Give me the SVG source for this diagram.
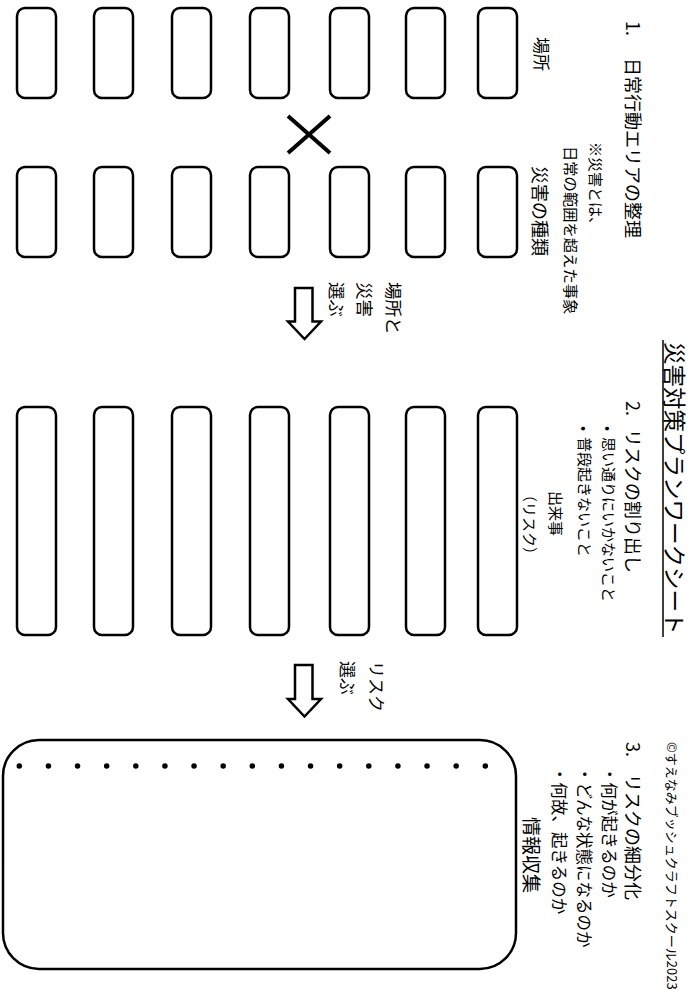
<svg xmlns="http://www.w3.org/2000/svg" width="693" height="1002" viewBox="0 0 693 1002">
<style>
.t{font-family:"Noto Sans CJK JP","Noto Sans",sans-serif;fill:#000}
.box{fill:#fff;stroke:#000;stroke-width:2.5}
.arr{fill:#fff;stroke:#000;stroke-width:2.5;stroke-linejoin:miter}
</style>
<rect width="693" height="1002" fill="#fff"/>
<g id="title">
<text class="t" font-size="22.5" transform="translate(665.5,342) rotate(90)">災害対策プランワークシート</text>
<line x1="663" y1="340" x2="663" y2="637" stroke="#000" stroke-width="1.5"/>
<text class="t" font-size="13" transform="translate(667,742) rotate(90)">©すえなみブッシュクラフトスクール2023</text>
</g>
<g id="section1">
<text class="t" font-size="18" transform="translate(626,21) rotate(90)">1.<tspan x="37">日常行動エリアの整理</tspan></text>
<text class="t" font-size="15" transform="translate(589.5,142) rotate(90)">※災害とは、</text>
<text class="t" font-size="15.3" transform="translate(564.5,146) rotate(90)">日常の範囲を超えた事象</text>
<text class="t" font-size="17" transform="translate(534.5,37) rotate(90)">場所</text>
<text class="t" font-size="18" transform="translate(533,166) rotate(90)">災害の種類</text>
</g>
<g id="places">
<rect class="box" x="17" y="8" width="39" height="90" rx="8"/>
<rect class="box" x="94" y="8" width="39" height="90" rx="8"/>
<rect class="box" x="172" y="8" width="39" height="90" rx="8"/>
<rect class="box" x="250" y="8" width="39" height="90" rx="8"/>
<rect class="box" x="330" y="8" width="39" height="90" rx="8"/>
<rect class="box" x="406" y="8" width="39" height="90" rx="8"/>
<rect class="box" x="478" y="8" width="39" height="90" rx="8"/>
</g>
<g id="times">
<line x1="288" y1="116" x2="330" y2="153" stroke="#000" stroke-width="4"/>
<line x1="288" y1="153" x2="330" y2="116" stroke="#000" stroke-width="4"/>
</g>
<g id="disasters">
<rect class="box" x="17" y="167" width="39" height="90" rx="8"/>
<rect class="box" x="94" y="167" width="39" height="90" rx="8"/>
<rect class="box" x="172" y="167" width="39" height="90" rx="8"/>
<rect class="box" x="250" y="167" width="39" height="90" rx="8"/>
<rect class="box" x="330" y="167" width="39" height="90" rx="8"/>
<rect class="box" x="406" y="167" width="39" height="90" rx="8"/>
<rect class="box" x="478" y="167" width="39" height="90" rx="8"/>
</g>
<g id="step1-label">
<text class="t" font-size="17.5" transform="translate(386.5,282) rotate(90)">場所と</text>
<text class="t" font-size="17.5" transform="translate(357.5,282) rotate(90)">災害</text>
<text class="t" font-size="17.5" transform="translate(329.5,282) rotate(90)">選ぶ</text>
</g>
<g id="section2">
<text class="t" font-size="18" transform="translate(626,401) rotate(90)">2.<tspan x="28">リスクの割り出し</tspan></text>
<text class="t" font-size="15" transform="translate(603.3,426) rotate(90)">•<tspan x="11">思い通りにいかないこと</tspan></text>
<text class="t" font-size="15" transform="translate(579.3,426) rotate(90)">•<tspan x="11">普段起きないこと</tspan></text>
<text class="t" font-size="15" transform="translate(550.3,491) rotate(90)">出来事</text>
<text class="t" font-size="15" transform="translate(524.3,487) rotate(90)">（リスク）</text>
</g>
<g id="risks">
<rect class="box" x="17" y="407" width="39" height="228" rx="8"/>
<rect class="box" x="94" y="407" width="39" height="228" rx="8"/>
<rect class="box" x="172" y="407" width="39" height="228" rx="8"/>
<rect class="box" x="250" y="407" width="39" height="228" rx="8"/>
<rect class="box" x="330" y="407" width="39" height="228" rx="8"/>
<rect class="box" x="406" y="407" width="39" height="228" rx="8"/>
<rect class="box" x="478" y="407" width="39" height="228" rx="8"/>
</g>
<g id="step2-label">
<text class="t" font-size="17" transform="translate(369.5,661) rotate(90)">リスク</text>
<text class="t" font-size="17" transform="translate(341,661) rotate(90)">選ぶ</text>
</g>
<g id="section3">
<text class="t" font-size="18" transform="translate(626,742) rotate(90)">3.<tspan x="32">リスクの細分化</tspan></text>
<text class="t" font-size="16.5" transform="translate(602.7,766) rotate(90)">・何が起きるのか</text>
<text class="t" font-size="16.5" transform="translate(577.7,766) rotate(90)">・どんな状態になるのか</text>
<text class="t" font-size="16.5" transform="translate(552.7,766) rotate(90)">・何故、起きるのか</text>
<text class="t" font-size="19" transform="translate(523.8,817) rotate(90)">情報収集</text>
</g>
<g id="info-box">
<rect class="box" x="3" y="740" width="513" height="229" rx="36"/>
<line x1="19.3" y1="766" x2="486" y2="766" stroke="#000" stroke-width="5.5" stroke-linecap="round" stroke-dasharray="0 29.125"/>
</g>
<g id="connectors">
<path class="arr" d="M295,288 L312.5,288 L312.5,321.5 L321,321.5 L304.5,339 L288,321.5 L295,321.5 Z"/>
<path class="arr" d="M295,665 L312.5,665 L312.5,699 L321,699 L304.5,716.5 L288,699 L295,699 Z"/>
</g>
</svg>
